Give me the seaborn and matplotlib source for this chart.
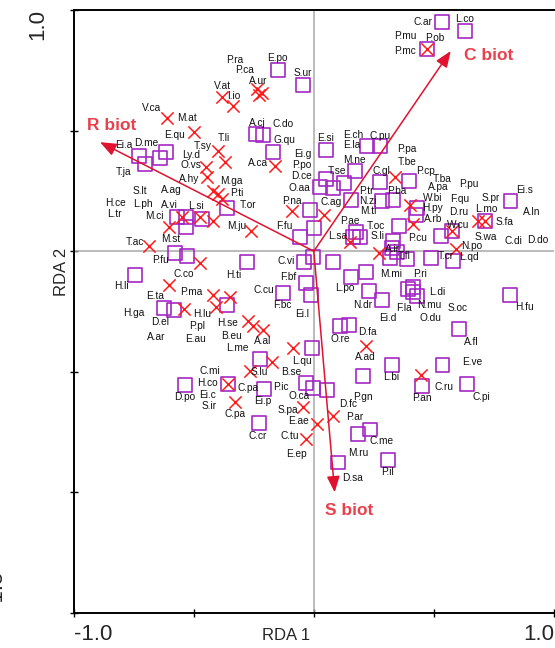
import matplotlib
matplotlib.use("Agg")
import matplotlib.pyplot as plt
import seaborn as sns
import pandas as pd

sns.set_style("white")
plt.rcParams["font.family"] = ["Liberation Sans", "DejaVu Sans"]

# Species scores drawn as open squares (RDA 1, RDA 2)
square_x = [0.532, 0.628, 0.470, -0.150, -0.046, -0.241, -0.212, -0.170, -0.728, -0.703,
            -0.640, -0.615, 0.050, 0.220, 0.274, 0.170, 0.050, 0.025, 0.079, 0.125,
            0.274, 0.395, -0.362, -0.017, 0.154, 0.283, 0.328, 0.428, 0.424, 0.000,
            -0.058, -0.570, -0.532, -0.532, -0.466, 0.175, 0.191, 0.162, 0.353, 0.328,
            0.316, 0.387, 0.324, 0.345, 0.487, 0.578, 0.528, 0.574, 0.711, 0.819,
            -0.004, -0.042, -0.279, 0.079, 0.154, 0.216, -0.033, -0.129, 0.229, 0.283,
            -0.012, -0.362, 0.108, 0.146, -0.008, -0.225, 0.324, 0.204, -0.358, -0.208,
            -0.033, -0.004, 0.054, -0.229, 0.183, 0.233, 0.100, 0.308, 0.603, 0.536,
            0.449, 0.636, -0.536, -0.624, -0.582, -0.744, -0.578, -0.528, 0.391, 0.412,
            0.412, 0.428, 0.815]
square_y = [0.950, 0.913, 0.838, 0.751, 0.689, 0.485, 0.481, 0.411, 0.394, 0.361,
            0.386, 0.411, 0.419, 0.436, 0.436, 0.332, 0.299, 0.266, 0.261, 0.282,
            0.286, 0.290, 0.178, 0.170, 0.212, 0.207, 0.212, 0.178, 0.149, 0.095,
            0.058, 0.141, 0.141, 0.100, 0.133, 0.079, 0.058, 0.058, 0.104, 0.041,
            -0.029, -0.033, 0.012, -0.004, -0.029, -0.041, 0.062, 0.083, 0.124, 0.207,
            -0.025, -0.046, -0.046, -0.046, -0.108, -0.087, -0.133, -0.174, -0.166, -0.203,
            -0.183, -0.224, -0.311, -0.307, -0.402, -0.448, -0.473, -0.519, -0.552, -0.573,
            -0.548, -0.568, -0.577, -0.714, -0.759, -0.739, -0.876, -0.867, -0.324, -0.473,
            -0.560, -0.552, -0.556, -0.237, -0.245, -0.100, -0.008, -0.021, -0.158, -0.149,
            -0.170, -0.187, -0.183]

# Species scores drawn as crosses
cross_x = [0.470, -0.383, -0.337, -0.237, -0.216, -0.229, -0.611, -0.499, -0.399, -0.370,
           -0.449, -0.445, -0.162, -0.420, -0.399, -0.383, -0.091, 0.042, -0.262, -0.474,
           -0.420, -0.549, -0.603, -0.686, -0.474, -0.603, -0.420, -0.349, -0.541, -0.407,
           -0.274, -0.254, -0.212, -0.087, -0.175, -0.266, -0.358, -0.328, -0.046, 0.012,
           0.079, -0.033, 0.216, 0.445, 0.150, 0.270, 0.337, 0.399, 0.412, 0.682,
           0.711, 0.574, 0.590]
cross_y = [0.838, 0.639, 0.602, 0.672, 0.656, 0.647, 0.552, 0.494, 0.415, 0.369,
           0.349, 0.307, 0.353, 0.249, 0.237, 0.216, 0.166, 0.149, 0.083, 0.141,
           0.124, 0.141, 0.100, 0.021, -0.050, -0.141, -0.183, -0.191, -0.241, -0.232,
           -0.290, -0.311, -0.328, -0.402, -0.461, -0.498, -0.552, -0.627, -0.647, -0.718,
           -0.685, -0.780, -0.394, -0.515, 0.037, -0.008, 0.307, 0.191, 0.112, 0.124,
           0.124, 0.083, 0.008]

# Species name labels
label_text = ["C.ar", "L.co", "P.mu", "P.ob", "P.mc", "P.pa", "T.be", "V.at", "I.io", "V.ca",
              "M.at", "E.qu", "T.li", "T.sy", "Ei.a", "D.me", "Ly.d", "O.vs", "P.ra", "P.ca",
              "E.po", "S.ur", "A.ur", "A.cj", "C.do", "G.qu", "A.ca", "Ei.g", "P.po", "E.si",
              "E.ch", "E.la", "C.pu", "M.ne", "D.ce", "O.aa", "T.se", "C.gl", "M.ga", "P.ti",
              "T.or", "P.na", "C.ag", "P.tr", "N.zi", "M.ti", "P.ba", "M.ju", "F.fu", "P.ae",
              "L.sa", "T.oc", "S.li", "P.cu", "C.vi", "L.si", "H.ti", "F.bf", "C.cu", "F.bc",
              "Ei.l", "L.po", "N.dr", "Ei.d", "M.mi", "P.cp", "T.ba", "P.pu", "A.pa", "Ei.s",
              "W.bi", "H.py", "F.qu", "S.pr", "D.ru", "L.mo", "A.ln", "A.rb", "S.fa", "W.cu",
              "S.wa", "C.di", "D.do", "N.po", "T.cr", "L.qd", "A.ir", "T.fl", "P.ri", "L.di",
              "H.fu", "F.la", "N.mu", "S.oc", "O.du", "T.ja", "S.lt", "A.ag", "H.ce", "L.ph",
              "A.vi", "L.tr", "M.ci", "M.st", "T.ac", "P.fu", "H.li", "C.co", "E.ta", "P.ma",
              "H.ga", "H.lu", "D.el", "P.pl", "H.se", "A.hy", "A.ar", "E.au", "B.eu", "L.me",
              "A.al", "O.re", "D.fa", "A.ad", "L.qu", "B.se", "S.lu", "C.pa", "P.ic", "O.ca",
              "Ei.p", "D.fc", "P.gn", "L.bi", "C.pa", "S.pa", "P.ar", "E.ae", "C.cr", "C.me",
              "C.tu", "E.ep", "M.ru", "D.sa", "P.il", "C.mi", "H.co", "D.po", "Ei.c", "S.ir",
              "A.fl", "E.ve", "C.ru", "P.an", "C.pi"]
label_x = [0.453, 0.628, 0.383, 0.503, 0.378, 0.387, 0.387, -0.378, -0.333, -0.674,
           -0.528, -0.578, -0.374, -0.462, -0.790, -0.699, -0.511, -0.511, -0.328, -0.287,
           -0.150, -0.046, -0.233, -0.237, -0.129, -0.121, -0.233, -0.046, -0.050, 0.050,
           0.166, 0.158, 0.274, 0.170, -0.050, -0.058, 0.096, 0.283, -0.345, -0.320,
           -0.274, -0.091, 0.071, 0.220, 0.225, 0.225, 0.345, -0.320, -0.121, 0.150,
           0.100, 0.258, 0.266, 0.432, -0.116, -0.491, -0.333, -0.108, -0.208, -0.133,
           -0.050, 0.129, 0.204, 0.308, 0.320, 0.466, 0.536, 0.644, 0.520, 0.877,
           0.495, 0.495, 0.607, 0.736, 0.603, 0.719, 0.906, 0.499, 0.794, 0.599,
           0.715, 0.832, 0.931, 0.657, 0.549, 0.644, 0.328, 0.378, 0.441, 0.516,
           0.877, 0.374, 0.482, 0.599, 0.486, -0.794, -0.723, -0.595, -0.827, -0.711,
           -0.599, -0.832, -0.665, -0.595, -0.744, -0.640, -0.802, -0.541, -0.661, -0.511,
           -0.748, -0.466, -0.640, -0.486, -0.358, -0.520, -0.657, -0.491, -0.341, -0.320,
           -0.212, 0.112, 0.225, 0.216, -0.050, -0.095, -0.225, -0.274, -0.137, -0.062,
           -0.212, 0.141, 0.204, 0.324, -0.328, -0.108, 0.170, -0.062, -0.233, 0.283,
           -0.100, -0.071, 0.183, 0.162, 0.308, -0.432, -0.441, -0.536, -0.441, -0.437,
           0.657, 0.661, 0.541, 0.449, 0.699]
label_y = [0.950, 0.963, 0.892, 0.884, 0.830, 0.423, 0.369, 0.685, 0.643, 0.593,
           0.552, 0.481, 0.469, 0.436, 0.440, 0.448, 0.398, 0.357, 0.793, 0.751,
           0.801, 0.739, 0.705, 0.531, 0.527, 0.461, 0.365, 0.402, 0.357, 0.469,
           0.481, 0.440, 0.477, 0.378, 0.311, 0.261, 0.332, 0.332, 0.290, 0.241,
           0.191, 0.207, 0.203, 0.249, 0.207, 0.166, 0.249, 0.104, 0.104, 0.124,
           0.062, 0.104, 0.062, 0.054, -0.041, 0.187, -0.100, -0.108, -0.162, -0.224,
           -0.261, -0.154, -0.224, -0.278, -0.095, 0.332, 0.299, 0.278, 0.266, 0.253,
           0.222, 0.178, 0.216, 0.220, 0.162, 0.174, 0.162, 0.133, 0.120, 0.108,
           0.058, 0.041, 0.046, 0.021, -0.021, -0.025, 0.008, -0.021, -0.095, -0.170,
           -0.232, -0.236, -0.224, -0.236, -0.278, 0.328, 0.249, 0.253, 0.199, 0.195,
           0.191, 0.154, 0.145, 0.050, 0.037, -0.037, -0.145, -0.095, -0.187, -0.170,
           -0.257, -0.261, -0.295, -0.311, -0.299, 0.299, -0.357, -0.365, -0.353, -0.402,
           -0.373, -0.365, -0.336, -0.440, -0.454, -0.500, -0.502, -0.568, -0.564, -0.602,
           -0.622, -0.635, -0.606, -0.523, -0.676, -0.660, -0.689, -0.705, -0.768, -0.788,
           -0.768, -0.842, -0.838, -0.942, -0.917, -0.498, -0.548, -0.606, -0.598, -0.643,
           -0.378, -0.461, -0.564, -0.610, -0.606]

# Environmental biplot arrows
arrow_names = ["R biot", "C biot", "S biot"]
arrow_x = [-0.890, 0.570, 0.087]
arrow_y = [0.452, 0.830, -1.000]
arrow_label_x = [-0.840, 0.728, 0.146]
arrow_label_y = [0.520, 0.813, -1.075]

PURPLE = "#a427c4"
RED = "#ff1a1a"
ARROW = "#e0122f"
ARROW_TEXT = "#e8414c"

fig = plt.figure(figsize=(5.55, 6.48), dpi=100)
ax = fig.add_axes([73.6 / 555, 1 - 613 / 648, (554 - 73.6) / 555, (613 - 10) / 648])

ax.axhline(0, color="#a8a8a8", lw=1.1, zorder=1)
ax.axvline(0, color="#a8a8a8", lw=1.1, zorder=1)

squares = pd.DataFrame({"RDA1": square_x, "RDA2": square_y})
crosses = pd.DataFrame({"RDA1": cross_x, "RDA2": cross_y})

sns.scatterplot(data=squares, x="RDA1", y="RDA2", ax=ax, marker="s", s=100,
                facecolors="none", edgecolor=PURPLE, linewidth=1.2, zorder=3)
sns.scatterplot(data=crosses, x="RDA1", y="RDA2", ax=ax, marker="x", s=78,
                color=RED, linewidth=1.1, zorder=4)

for t, x, y in zip(label_text, label_x, label_y):
    ax.text(x, y, t, fontsize=7.3, ha="center", va="center", color="#111111", zorder=5)

for name, x, y, lx, ly in zip(arrow_names, arrow_x, arrow_y, arrow_label_x, arrow_label_y):
    ax.annotate("", xy=(x, y), xytext=(0, 0),
                arrowprops=dict(arrowstyle="-|>,head_length=0.7,head_width=0.28",
                                color=ARROW, lw=1.1, shrinkA=0, shrinkB=0,
                                mutation_scale=14),
                zorder=6)
    ax.text(lx, ly, name, fontsize=12.5, fontweight="bold", color=ARROW_TEXT,
            ha="center", va="center", zorder=7)

ax.set_xlim(-1.0, 1.0)
ax.set_ylim(-1.5, 1.0)
ax.set_xticks([-1.0, -0.5, 0.0, 0.5, 1.0])
ax.set_yticks([-1.5, -1.0, -0.5, 0.0, 0.5, 1.0])
ax.set_xticklabels([])
ax.set_yticklabels([])
ax.tick_params(direction="inout", length=6, width=1.0, color="black",
               bottom=True, left=True)
ax.set_xlabel("")
ax.set_ylabel("")
for side in ["left", "top", "bottom"]:
    ax.spines[side].set_color("black")
    ax.spines[side].set_linewidth(1.4)
ax.spines["right"].set_visible(False)

# Axis end values and titles
fig.text(73.6 / 555, 1 - 635 / 648, "-1.0", fontsize=16, ha="left", va="center")
fig.text(554 / 555, 1 - 635 / 648, "1.0", fontsize=16, ha="right", va="center")
fig.text(286 / 555, 1 - 636 / 648, "RDA 1", fontsize=12, ha="center", va="center")
fig.text(38 / 555, 1 - 25 / 648, "1.0", fontsize=16, rotation=90, ha="center", va="center")
fig.text(62 / 555, 1 - 272 / 648, "RDA 2", fontsize=12, rotation=90, ha="center", va="center")
fig.text(-3 / 555, 1 - 590 / 648, "-1.5", fontsize=16, rotation=90, ha="center", va="center")

fig.savefig("out.png", dpi=100)
